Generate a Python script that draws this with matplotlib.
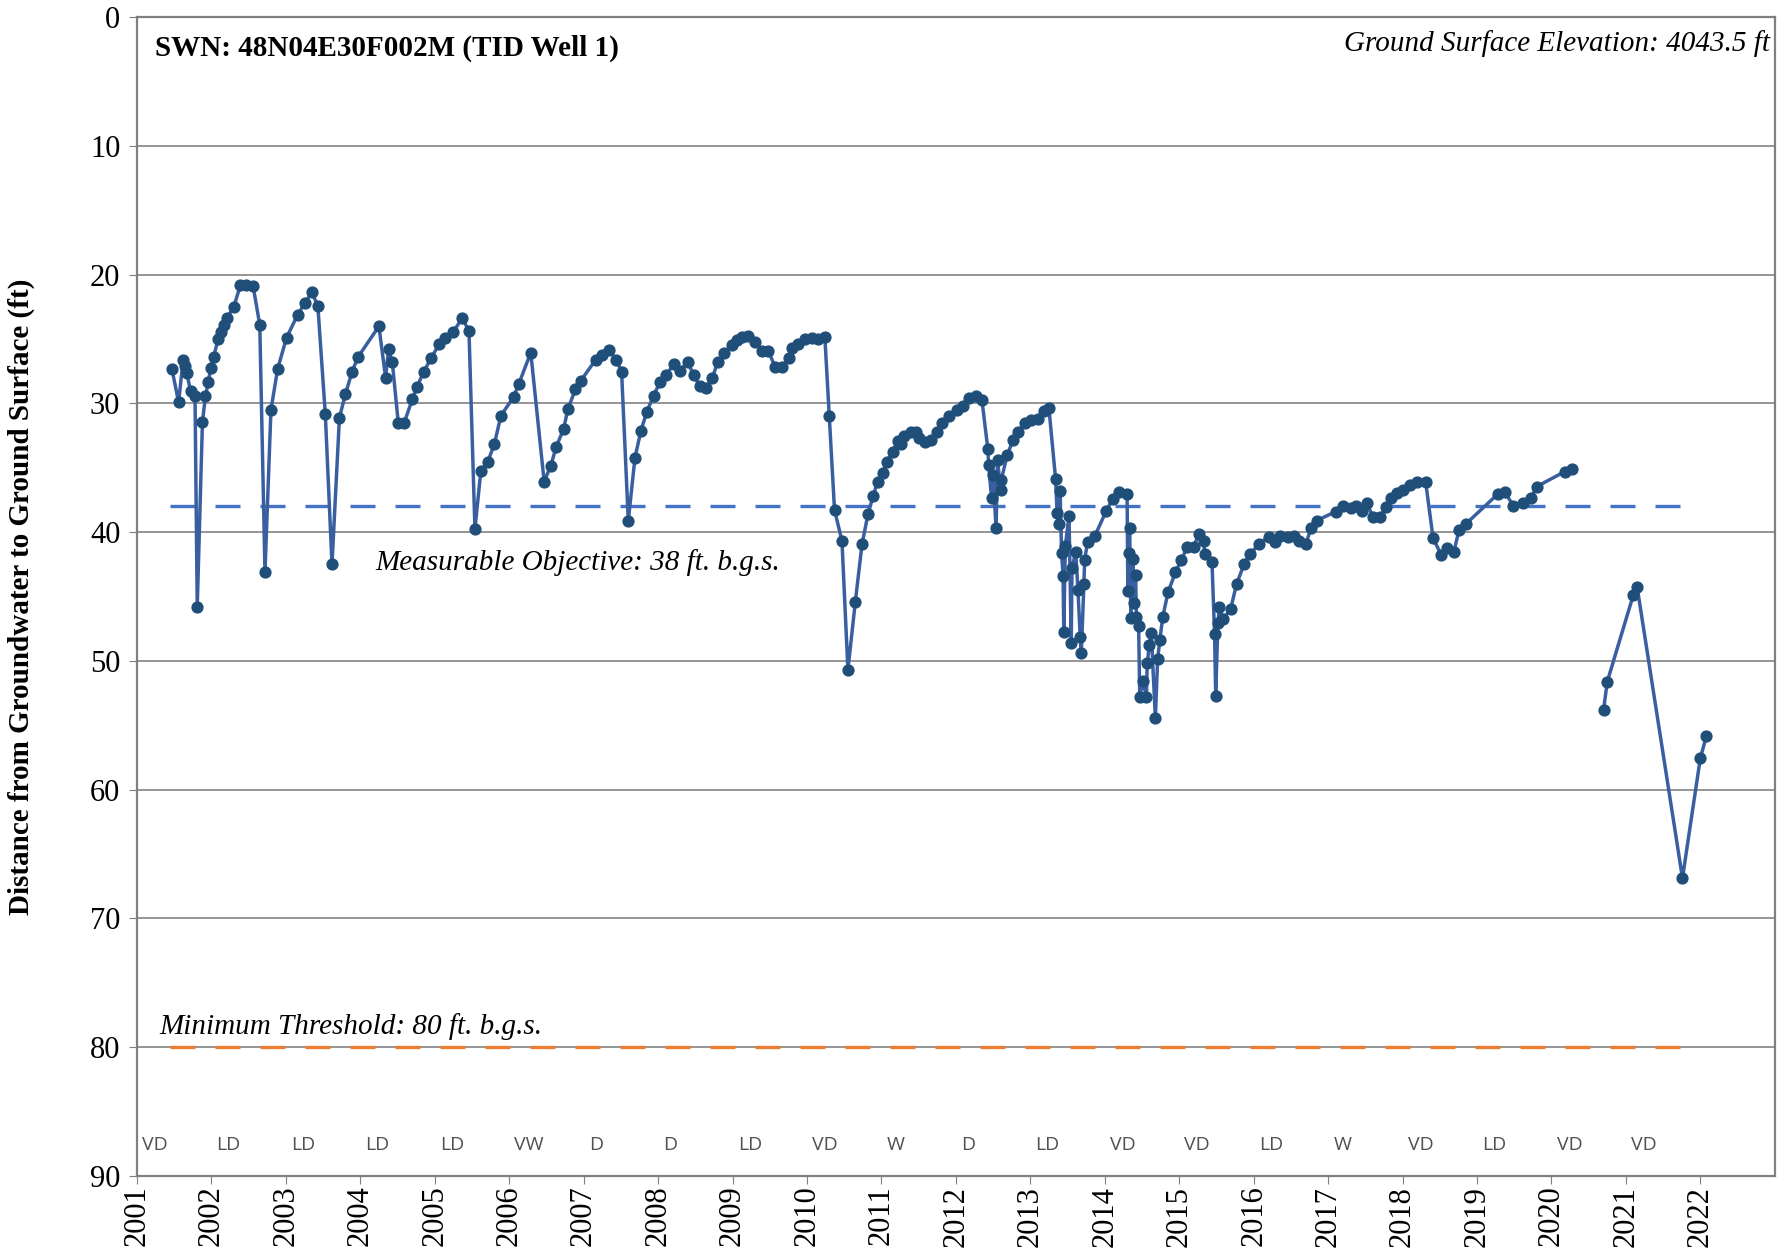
import matplotlib
matplotlib.use('Agg')

import numpy as np
import matplotlib.pyplot as plt

# decimal year / depth to water (ft b.g.s.), continuous record 2001-2020
years = [
    2001.47, 2001.56, 2001.62, 2001.64, 2001.67, 2001.72, 2001.78, 2001.81, 2001.88, 2001.92,
    2001.96, 2001.99, 2002.03, 2002.09, 2002.13, 2002.17, 2002.21, 2002.30, 2002.39, 2002.47,
    2002.56, 2002.65, 2002.72, 2002.80, 2002.89, 2003.01, 2003.16, 2003.26, 2003.35, 2003.43,
    2003.53, 2003.62, 2003.72, 2003.80, 2003.89, 2003.97, 2004.25, 2004.34, 2004.38, 2004.43,
    2004.51, 2004.59, 2004.70, 2004.76, 2004.85, 2004.95, 2005.06, 2005.14, 2005.25, 2005.37,
    2005.46, 2005.54, 2005.62, 2005.71, 2005.80, 2005.89, 2006.06, 2006.13, 2006.29, 2006.47,
    2006.56, 2006.63, 2006.73, 2006.79, 2006.89, 2006.96, 2007.16, 2007.25, 2007.34, 2007.44,
    2007.51, 2007.60, 2007.69, 2007.77, 2007.85, 2007.94, 2008.03, 2008.11, 2008.21, 2008.29,
    2008.40, 2008.48, 2008.56, 2008.65, 2008.73, 2008.80, 2008.89, 2008.99, 2009.06, 2009.13,
    2009.21, 2009.30, 2009.40, 2009.48, 2009.57, 2009.66, 2009.76, 2009.80, 2009.88, 2009.97,
    2010.07, 2010.15, 2010.24, 2010.30, 2010.37, 2010.47, 2010.55, 2010.65, 2010.74, 2010.82,
    2010.89, 2010.95, 2011.02, 2011.07, 2011.15, 2011.22, 2011.26, 2011.31, 2011.40, 2011.47,
    2011.50, 2011.58, 2011.67, 2011.74, 2011.82, 2011.91, 2012.01, 2012.09, 2012.18, 2012.27,
    2012.35, 2012.43, 2012.44, 2012.48, 2012.50, 2012.54, 2012.56, 2012.60, 2012.61, 2012.69,
    2012.77, 2012.84, 2012.93, 2013.01, 2013.11, 2013.19, 2013.25, 2013.34, 2013.36, 2013.38,
    2013.40, 2013.42, 2013.44, 2013.45, 2013.47, 2013.52, 2013.55, 2013.56, 2013.61, 2013.64,
    2013.67, 2013.685, 2013.72, 2013.73, 2013.77, 2013.87, 2014.02, 2014.11, 2014.19, 2014.30,
    2014.31, 2014.32, 2014.335, 2014.35, 2014.38, 2014.39, 2014.415, 2014.425, 2014.455, 2014.47,
    2014.51, 2014.56, 2014.57, 2014.60, 2014.625, 2014.68, 2014.71, 2014.74, 2014.78, 2014.85,
    2014.95, 2015.03, 2015.11, 2015.20, 2015.26, 2015.33, 2015.34, 2015.44, 2015.475, 2015.49,
    2015.52, 2015.54, 2015.59, 2015.69, 2015.77, 2015.87, 2015.95, 2016.07, 2016.20, 2016.29,
    2016.35, 2016.46, 2016.54, 2016.61, 2016.70, 2016.77, 2016.85, 2017.10, 2017.20, 2017.31,
    2017.37, 2017.46, 2017.52, 2017.60, 2017.70, 2017.78, 2017.84, 2017.93, 2018.01, 2018.10,
    2018.20, 2018.31, 2018.41, 2018.52, 2018.60, 2018.69, 2018.76, 2018.85, 2019.28, 2019.37,
    2019.49, 2019.62, 2019.73, 2019.80, 2020.18, 2020.27,
]
depth = [
    27.35, 29.92, 26.63, 27.07, 27.66, 29.04, 29.40, 45.78, 31.44, 29.46,
    28.34, 27.23, 26.40, 25.03, 24.43, 23.91, 23.34, 22.54, 20.81, 20.81,
    20.89, 23.91, 43.11, 30.51, 27.33, 24.90, 23.11, 22.18, 21.38, 22.44,
    30.80, 42.50, 31.11, 29.30, 27.54, 26.40, 24.02, 28.00, 25.80, 26.81,
    31.50, 31.50, 29.68, 28.75, 27.58, 26.50, 25.41, 24.95, 24.43, 23.39,
    24.38, 39.78, 35.22, 34.58, 33.18, 30.95, 29.50, 28.49, 26.06, 36.08,
    34.83, 33.41, 32.01, 30.43, 28.91, 28.26, 26.63, 26.24, 25.85, 26.63,
    27.54, 39.11, 34.21, 32.12, 30.64, 29.40, 28.31, 27.80, 26.97, 27.46,
    26.81, 27.84, 28.65, 28.78, 28.00, 26.81, 26.11, 25.47, 25.08, 24.87,
    24.74, 25.21, 25.93, 25.91, 27.15, 27.15, 26.50, 25.73, 25.41, 25.03,
    24.95, 25.03, 24.82, 30.98, 38.28, 40.68, 50.70, 45.39, 40.92, 38.61,
    37.16, 36.08, 35.38, 34.58, 33.75, 32.92, 33.18, 32.53, 32.20, 32.20,
    32.71, 32.97, 32.84, 32.20, 31.50, 30.95, 30.51, 30.20, 29.56, 29.43,
    29.74, 33.57, 34.78, 37.37, 35.60, 39.70, 34.40, 36.73, 35.95, 34.00,
    32.84, 32.19, 31.49, 31.28, 31.23, 30.56, 30.38, 35.90, 38.53, 39.39,
    36.78, 41.59, 43.40, 47.77, 41.10, 38.73, 48.63, 42.80, 41.51, 44.49,
    48.11, 49.40, 44.02, 42.16, 40.74, 40.27, 38.35, 37.42, 36.85, 37.03,
    44.57, 41.64, 39.65, 46.64, 42.08, 45.53, 43.37, 46.56, 47.33, 52.77,
    51.60, 52.77, 50.18, 48.76, 47.85, 54.45, 49.87, 48.37, 46.56, 44.67,
    43.11, 42.16, 41.12, 41.12, 40.14, 40.66, 41.69, 42.29, 47.90, 52.72,
    47.08, 45.78, 46.76, 45.99, 44.05, 42.50, 41.72, 40.94, 40.35, 40.79,
    40.29, 40.35, 40.29, 40.73, 40.94, 39.70, 39.10, 38.41, 37.97, 38.15,
    37.97, 38.35, 37.76, 38.79, 38.79, 38.07, 37.37, 36.98, 36.72, 36.33,
    36.08, 36.08, 40.47, 41.77, 41.22, 41.51, 39.83, 39.37, 37.04, 36.86,
    37.97, 37.71, 37.32, 36.47, 35.30, 35.09,
]

# record after the 2020 gap
years_late = [2020.70, 2020.75, 2021.10, 2021.15, 2021.76, 2022.00, 2022.08]
depth_late = [53.80, 51.61, 44.88, 44.23, 66.87, 57.55, 55.87]

# water year types
wy_years = list(range(2001, 2022))
wy_types = ['VD', 'LD', 'LD', 'LD', 'LD', 'VW', 'D', 'D', 'LD', 'VD', 'W',
            'D', 'LD', 'VD', 'VD', 'LD', 'W', 'VD', 'LD', 'VD', 'VD']

objective = 38
threshold = 80
line_start, line_end = 2001.45, 2021.95

serif = ['Liberation Serif', 'DejaVu Serif']
plt.rcParams['font.family'] = serif

fig = plt.figure(figsize=(17.9, 12.58), dpi=100)
ax = fig.add_axes([0.0765, 0.0652, 0.915, 0.9213])

line_col = '#3A5FA0'
mk_col = '#1F4E79'
for xs, ys in [(years, depth), (years_late, depth_late)]:
    ax.plot(xs, ys, '-', color=line_col, lw=2.5, zorder=4)
    ax.plot(xs, ys, 'o', color=mk_col, ms=7.8, mec=mk_col, zorder=5)

ax.plot([line_start, line_end], [objective, objective], color='#4472C4', lw=2.4,
        dashes=(7.5, 6), zorder=3)
ax.plot([line_start, line_end], [threshold, threshold], color='#ED7D31', lw=2.4,
        dashes=(7.5, 6), zorder=3)

ax.text(2004.2, 42.4, 'Measurable Objective: 38 ft. b.g.s.', fontsize=21,
        style='italic', va='center', ha='left')
ax.text(2001.3, 78.4, 'Minimum Threshold: 80 ft. b.g.s.', fontsize=21,
        style='italic', va='center', ha='left')

for yr, t in zip(wy_years, wy_types):
    ax.text(yr + 0.07, 87.6, t, fontsize=14, color='#505050', ha='left', va='center',
            family=['Open Sans', 'DejaVu Sans'])

ax.text(0.011, 0.985, 'SWN: 48N04E30F002M (TID Well 1)', transform=ax.transAxes,
        fontsize=21, fontweight='bold', va='top', ha='left')
ax.text(0.997, 0.989, 'Ground Surface Elevation: 4043.5 ft', transform=ax.transAxes,
        fontsize=21, style='italic', va='top', ha='right')

ax.set_xlim(2001, 2023)
ax.set_ylim(90, 0)
ax.set_xticks(range(2001, 2023))
ax.set_xticklabels([str(y) for y in range(2001, 2023)], rotation=90, fontsize=22)
ax.set_yticks(range(0, 91, 10))
ax.tick_params(axis='y', labelsize=22, length=6, color='#808080', direction='out', pad=6)
ax.tick_params(axis='x', length=6, color='#808080', direction='out', pad=1)

ax.grid(axis='y', color='#8C8C8C', lw=1.3)
ax.set_axisbelow(True)
for s in ax.spines.values():
    s.set_color('#808080')
    s.set_linewidth(1.6)

ax.set_ylabel('Distance from Groundwater to Ground Surface (ft)', fontsize=21,
              fontweight='bold')
ax.yaxis.set_label_coords(-0.062, 0.5)

fig.savefig('out.png', dpi=100)
